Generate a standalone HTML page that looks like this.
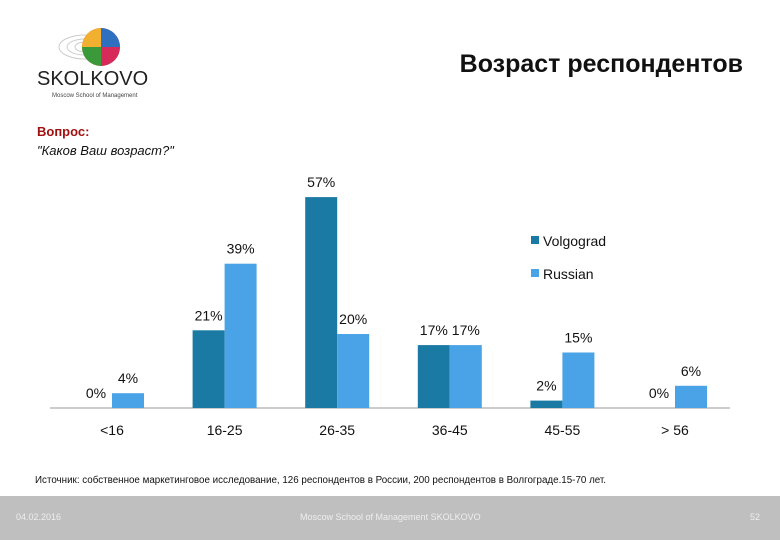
<!DOCTYPE html>
<html><head><meta charset="utf-8"><style>
body{margin:0;width:780px;height:540px;background:#fff;font-family:"Liberation Sans","DejaVu Sans",sans-serif;position:relative;overflow:hidden}
.abs{position:absolute}
</style></head><body>
<div class="abs" style="left:35px;top:22px;width:130px;height:82px">
<svg width="130" height="82"><g fill="none" stroke="#ccc" stroke-width="1"><ellipse cx="50" cy="25" rx="26" ry="12"/><ellipse cx="50" cy="25" rx="18" ry="8"/><ellipse cx="50" cy="25" rx="10" ry="5"/></g>
<circle cx="66" cy="25" r="19" fill="#e8552a"/><path d="M66 6 A19 19 0 0 1 85 25 L66 25Z" fill="#2f6fc0"/><path d="M66 25 L85 25 A19 19 0 0 1 66 44Z" fill="#d62a5a"/><path d="M66 25 L66 44 A19 19 0 0 1 47 25Z" fill="#3a9a3a"/><path d="M47 25 A19 19 0 0 1 66 6 L66 25Z" fill="#f2b030"/></svg></div>
<div class="abs" style="left:37px;top:68px;font-size:20px;color:#222">SKOLKOVO</div>
<div class="abs" style="left:52px;top:93px;font-size:6px;color:#444">Moscow School of Management</div>
<div class="abs" style="right:37px;top:50px;font-size:25px;font-weight:bold;color:#111">Возраст респондентов</div>
<div class="abs" style="left:37px;top:124px;font-size:13px;font-weight:bold;color:#a01010">Вопрос:</div>
<div class="abs" style="left:37px;top:143px;font-size:13px;font-style:italic;color:#111">"Каков Ваш возраст?"</div>
<svg class="abs" style="left:0;top:0" width="780" height="540" id="chart"></svg>
<div class="abs" style="left:35px;top:475px;font-size:9.8px;color:#111;white-space:nowrap">Источник: собственное маркетинговое исследование, 126 респондентов в России, 200 респондентов в Волгограде.15-70 лет.</div>
<div class="abs" style="left:0;top:496px;width:780px;height:44px;background:#bfbfbf"></div>
<div class="abs" style="left:16px;top:512px;font-size:9px;color:#eee">04.02.2016</div>
<div class="abs" style="left:300px;top:512px;font-size:9px;color:#eee">Moscow School of Management SKOLKOVO</div>
<div class="abs" style="left:750px;top:512px;font-size:9px;color:#eee">52</div>
<script>
const categories=["<16","16-25","26-35","36-45","45-55","> 56"];
const volgograd=[0,21,57,17,2,0];
const russian=[4,39,20,17,15,6];
const seriesNames=["Volgograd","Russian"];
const colors=["#1a7aa3","#4aa3e6"];
const NS="http://www.w3.org/2000/svg";
const svg=document.getElementById('chart');
const x0=112,step=112.6,base=408,k=3.7,bw=32;
const xc=i=>x0+i*step;
const y=v=>base-v*k;
function mk(t,a){const e=document.createElementNS(NS,t);for(const n in a)e.setAttribute(n,a[n]);svg.appendChild(e);return e;}
const ax=mk('line',{x1:50,y1:base,x2:730,y2:base,stroke:'#999','stroke-width':1});


[volgograd,russian].forEach((s,si)=>{
 s.forEach((v,i)=>{
  const bx=si===0?xc(i)-bw:xc(i);
  const r=mk('rect',{x:bx,y:y(v),width:bw,height:v*k,fill:colors[si]});
  
  
  const t=mk('text',{x:bx+bw/2,y:y(v)-10,'text-anchor':'middle','font-size':14,fill:'#111'});
  t.textContent=v+'%';
  
  
 });
});
categories.forEach((c,i)=>{
 const t=mk('text',{x:xc(i),y:435,'text-anchor':'middle','font-size':14,fill:'#111'});
 t.textContent=c;
 
 
});
seriesNames.forEach((n,i)=>{
 const r=mk('rect',{x:531,y:236+i*33,width:8,height:8,fill:colors[i]});
 
 
 const t=mk('text',{x:543,y:246+i*33,'font-size':14,fill:'#111'});
 t.textContent=n;
 
 
});
</script>
</body></html>
